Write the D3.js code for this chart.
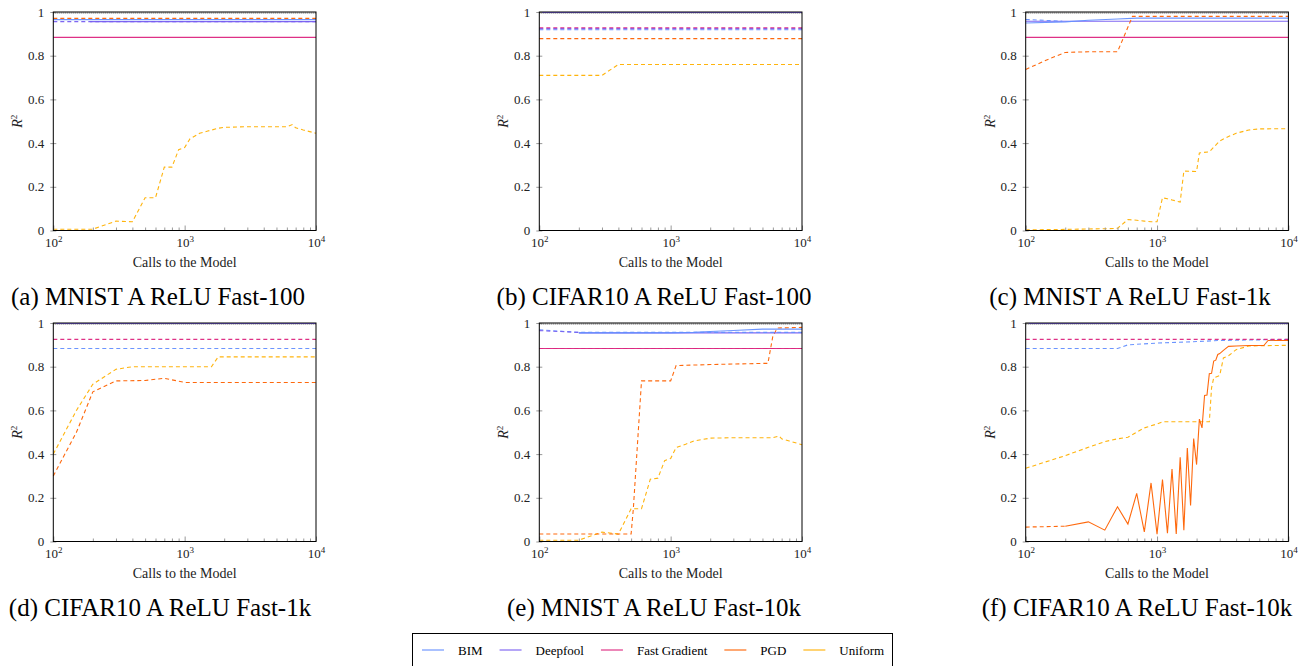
<!DOCTYPE html>
<html><head><meta charset="utf-8">
<script src="https://cdn.jsdelivr.net/npm/d3@7"></script>
<style>body{margin:0;background:#fff}svg{display:block}</style>
</head><body>
<svg id="c" width="1307" height="666"></svg>
<script>
// ---------- data ----------
const methods = ["BIM", "Deepfool", "Fast Gradient", "PGD", "Uniform"];
const methodColors = ["#648FFF", "#785EF0", "#DC267F", "#FE6100", "#FFB000"];
const yTicks = [0, 0.2, 0.4, 0.6, 0.8, 1];
const xMajor = [100, 1000, 10000];
const xMinor = [200,300,400,500,600,700,800,900,2000,3000,4000,5000,6000,7000,8000,9000];
const xSpan = [100, 10000];
const xAxisTitle = "Calls to the Model";
const captions = ["(a) MNIST A ReLU Fast-100", "(b) CIFAR10 A ReLU Fast-100", "(c) MNIST A ReLU Fast-1k",
                  "(d) CIFAR10 A ReLU Fast-1k", "(e) MNIST A ReLU Fast-10k", "(f) CIFAR10 A ReLU Fast-10k"];

// (a) MNIST Fast-100
const aUniformX = [100,200,300,400,500,600,700,800,900,1000,1100,1300,1500,1800,2000,3000,6000,6600,7000,8000,10000];
const aUniformY = [0.006,0.006,0.043,0.04,0.15,0.15,0.29,0.29,0.37,0.38,0.42,0.445,0.455,0.468,0.472,0.475,0.475,0.485,0.47,0.46,0.445];
const aPGDY = [0.971, 0.971];
const aBIMY = [0.965, 0.965];
const aDeepfoolDashY = [0.956, 0.956];
const aDeepfoolX = [190, 10000];
const aDeepfoolY = [0.956, 0.956];
const aFGY = [0.884, 0.884];

// (b) CIFAR10 Fast-100
const bUniformX = [100,200,300,400,1000,10000];
const bUniformY = [0.71,0.71,0.71,0.76,0.76,0.76];
const bFGY = [0.928, 0.928];
const bDeepfoolDashY = [0.924, 0.924];
const bBIMY = [0.919, 0.919];
const bPGDY = [0.878, 0.878];
const bDeepfoolY = [0.998, 0.998];

// (c) MNIST Fast-1k
const cPGDX = [100,150,200,300,500,650,10000];
const cPGDY = [0.737,0.785,0.815,0.818,0.818,0.98,0.98];
const cBIMDashX = [100, 190];
const cBIMDashY = [0.966, 0.958];
const cBIMX = [100,200,300,500,700,10000];
const cBIMY = [0.95,0.955,0.962,0.968,0.972,0.972];
const cDeepfoolY = [0.958, 0.958];
const cFGY = [0.884, 0.884];
const cUniformX = [100,200,300,400,500,600,700,800,900,1000,1100,1200,1300,1400,1500,1600,2000,2100,2500,3000,3500,4000,5000,6000,10000];
const cUniformY = [0.003,0.005,0.007,0.008,0.01,0.05,0.047,0.043,0.04,0.04,0.15,0.145,0.14,0.135,0.13,0.272,0.27,0.355,0.36,0.41,0.43,0.445,0.46,0.465,0.466];

// (d) CIFAR10 Fast-1k
const dUniformX = [100,150,200,300,400,700,1000,1600,1800,10000];
const dUniformY = [0.40,0.60,0.72,0.788,0.80,0.80,0.80,0.80,0.845,0.845];
const dPGDX = [100,150,200,300,500,700,1000,10000];
const dPGDY = [0.30,0.50,0.685,0.735,0.737,0.747,0.728,0.728];
const dFGY = [0.925, 0.925];
const dBIMY = [0.883, 0.883];
const dDeepfoolY = [0.998, 0.998];

// (e) MNIST Fast-10k
const ePGDX = [100,200,300,400,500,520,600,700,800,900,1000,1100,2000,5000,5500,6000,6500,10000];
const ePGDY = [0.034,0.034,0.034,0.034,0.034,0.15,0.735,0.735,0.735,0.735,0.735,0.805,0.81,0.815,0.815,0.94,0.977,0.98];
const eUniformX = [100,200,300,400,500,600,700,800,900,1000,1100,1300,1500,2000,3000,6000,6700,7000,8000,10000];
const eUniformY = [0.006,0.006,0.043,0.034,0.15,0.15,0.285,0.29,0.37,0.38,0.43,0.445,0.46,0.473,0.475,0.475,0.483,0.47,0.46,0.443];
const eBIMDashX = [100, 200, 10000];
const eBIMDashY = [0.969, 0.957, 0.957];
const eBIMX = [200,1000,1500,2000,3000,5000,10000];
const eBIMY = [0.955,0.955,0.957,0.961,0.966,0.972,0.972];
const eDeepfoolX = [200, 10000];
const eDeepfoolY = [0.955, 0.955];
const eDeepfoolDashX = [100, 200];
const eDeepfoolDashY = [0.965, 0.957];
const eFGY = [0.883, 0.883];

// (f) CIFAR10 Fast-10k
const fPGDDashX = [100, 200];
const fPGDDashY = [0.066, 0.070];
const fPGDX = [200,300,400,500,600,700,800,900,1000,1100,1200,1300,1400,1500,1600,1700,1800,1900,2000,2100,2200,2300,2400,2500,2600,2700,2800,2900,3000,3200,3500,4000,5000,6000,6500,7000,10000];
const fPGDY = [0.07,0.09,0.052,0.159,0.08,0.22,0.044,0.268,0.034,0.283,0.038,0.332,0.034,0.385,0.052,0.428,0.165,0.471,0.352,0.56,0.52,0.668,0.67,0.768,0.77,0.826,0.83,0.856,0.86,0.875,0.893,0.895,0.897,0.897,0.897,0.92,0.92];
const fUniformX = [100,200,300,400,500,600,700,800,1000,1100,2000,2500,2600,2700,3000,3200,3500,4000,5000,10000];
const fUniformY = [0.335,0.393,0.431,0.457,0.47,0.477,0.50,0.52,0.538,0.548,0.548,0.548,0.703,0.749,0.76,0.84,0.85,0.878,0.895,0.898];
const fBIMX = [100,500,600,1000,2000,3000,10000];
const fBIMY = [0.883,0.883,0.9,0.908,0.915,0.92,0.925];
const fFGY = [0.925, 0.925];
const fDeepfoolY = [0.998, 0.998];

// ---------- series tables ----------
const S = (m, dash, x, y) => ({ m, dash, x, y });
const panels = [
  [S("Uniform",1,aUniformX,aUniformY), S("Fast Gradient",0,xSpan,aFGY), S("Deepfool",1,xSpan,aDeepfoolDashY),
   S("Deepfool",0,aDeepfoolX,aDeepfoolY), S("BIM",0,xSpan,aBIMY), S("PGD",1,xSpan,aPGDY)],
  [S("Uniform",1,bUniformX,bUniformY), S("PGD",1,xSpan,bPGDY), S("BIM",1,xSpan,bBIMY),
   S("Deepfool",1,xSpan,bDeepfoolDashY), S("Fast Gradient",1,xSpan,bFGY), S("Deepfool",0,xSpan,bDeepfoolY)],
  [S("Uniform",1,cUniformX,cUniformY), S("Fast Gradient",0,xSpan,cFGY), S("Deepfool",0,xSpan,cDeepfoolY),
   S("BIM",0,cBIMX,cBIMY), S("BIM",1,cBIMDashX,cBIMDashY), S("PGD",1,cPGDX,cPGDY)],
  [S("Uniform",1,dUniformX,dUniformY), S("PGD",1,dPGDX,dPGDY), S("BIM",1,xSpan,dBIMY),
   S("Fast Gradient",1,xSpan,dFGY), S("Deepfool",0,xSpan,dDeepfoolY)],
  [S("Uniform",1,eUniformX,eUniformY), S("PGD",1,ePGDX,ePGDY), S("Fast Gradient",0,xSpan,eFGY),
   S("Fast Gradient",1,xSpan,eFGY), S("Deepfool",0,eDeepfoolX,eDeepfoolY), S("BIM",0,eBIMX,eBIMY),
   S("BIM",1,eBIMDashX,eBIMDashY), S("Deepfool",1,eDeepfoolDashX,eDeepfoolDashY)],
  [S("Uniform",1,fUniformX,fUniformY), S("PGD",1,fPGDDashX,fPGDDashY), S("PGD",0,fPGDX,fPGDY),
   S("BIM",1,fBIMX,fBIMY), S("Fast Gradient",1,xSpan,fFGY), S("Deepfool",0,xSpan,fDeepfoolY)]
];

// ---------- layout ----------
const colLeft = [53.3, 539.3, 1025.7];
const rowTop = [12, 323];
const PW = 262.7, PH = 218.5;
const captionX = [158, 654, 1130, 160, 654, 1137];
const FONT = "'Liberation Serif', 'Times New Roman', Times, serif";

const svg = d3.select("#c");
const color = d3.scaleOrdinal().domain(methods).range(methodColors);

panels.forEach((series, i) => {
  const col = i % 3, row = Math.floor(i / 3);
  const L = colLeft[col], T = rowTop[row];
  const g = svg.append("g").attr("transform", `translate(${L},${T})`);
  const x = d3.scaleLog().domain([100, 10000]).range([0, PW]);
  const y = d3.scaleLinear().domain([0, 1]).range([PH, 0]);

  const clipId = "clip" + i;
  g.append("clipPath").attr("id", clipId).append("rect")
    .attr("x", -1).attr("y", -2).attr("width", PW + 2).attr("height", PH + 3);

  const line = d3.line().x(d => x(d[0])).y(d => y(d[1]));
  const plot = g.append("g").attr("clip-path", `url(#${clipId})`);

  // reference line at R^2 = 1
  plot.append("line").attr("x1", 0).attr("x2", PW).attr("y1", y(1) + 1).attr("y2", y(1) + 1)
    .attr("stroke", "#444").attr("stroke-width", 1).attr("stroke-dasharray", "1,1");

  series.forEach(s => {
    plot.append("path").datum(d3.zip(s.x, s.y)).attr("d", line)
      .attr("fill", "none").attr("stroke", color(s.m)).attr("stroke-width", 1.1)
      .attr("stroke-opacity", 0.95)
      .attr("stroke-dasharray", s.dash ? "4,3" : null);
  });

  // y axis
  const ya = d3.axisLeft(y).tickValues(yTicks).tickSize(3).tickPadding(6)
    .tickFormat(d => (d === 0 || d === 1) ? String(d) : d.toFixed(1));
  const yg = g.append("g").call(ya);
  yg.select(".domain").remove();
  yg.selectAll(".tick line").attr("x1", 3).attr("stroke", "#999");
  yg.selectAll("text").attr("font-family", FONT).attr("font-size", 13).attr("fill", "#222");

  // x axis (minor + major ticks inside)
  const xa = d3.axisBottom(x).tickValues(xMajor.concat(xMinor)).tickSize(-3).tickPadding(4).tickFormat("");
  const xg = g.append("g").attr("transform", `translate(0,${PH})`).call(xa);
  xg.select(".domain").remove();
  xg.selectAll(".tick line").attr("stroke", "#999")
    .attr("y2", d => xMajor.includes(d) ? -5 : -3);
  xg.selectAll(".tick").filter(d => xMajor.includes(d)).each(function(d) {
    const t = d3.select(this).select("text").attr("y", 15).attr("dy", 0)
      .attr("font-family", FONT).attr("font-size", 13).attr("fill", "#222")
      .attr("dominant-baseline", "auto").attr("dy", "0.1em");
    t.text(null);
    t.append("tspan").text("10");
    t.append("tspan").attr("dy", -5).attr("font-size", 9).text(String(Math.round(Math.log10(d))));
  });

  // frame
  g.append("rect").attr("x", 0).attr("y", 0).attr("width", PW).attr("height", PH)
    .attr("fill", "none").attr("stroke", "#000").attr("stroke-width", 1);

  // axis titles
  g.append("text").attr("x", PW / 2).attr("y", PH + 36).attr("text-anchor", "middle")
    .attr("font-family", FONT).attr("font-size", 14).attr("fill", "#222").text(xAxisTitle);
  const yl = g.append("text").attr("transform", `translate(-31,${PH / 2}) rotate(-90)`)
    .attr("text-anchor", "middle").attr("font-family", FONT).attr("font-size", 14).attr("fill", "#222");
  yl.append("tspan").attr("font-style", "italic").text("R");
  yl.append("tspan").attr("dy", -5).attr("font-size", 9).text("2");

  // caption
  svg.append("text").attr("x", captionX[i]).attr("y", T + PH + 74).attr("text-anchor", "middle")
    .attr("font-family", FONT).attr("font-size", 25).attr("fill", "#000").text(captions[i]);
});

// ---------- legend ----------
const lg = svg.append("g");
lg.append("rect").attr("x", 412.5).attr("y", 633.5).attr("width", 480).attr("height", 34)
  .attr("fill", "#fff").attr("stroke", "#000").attr("stroke-width", 1);
let cx = 422;
methods.forEach(m => {
  lg.append("line").attr("x1", cx).attr("x2", cx + 22).attr("y1", 650).attr("y2", 650)
    .attr("stroke", color(m)).attr("stroke-width", 1.1);
  const t = lg.append("text").attr("x", cx + 36).attr("y", 654.5)
    .attr("font-family", FONT).attr("font-size", 13).attr("fill", "#000").text(m);
  cx += 36 + t.node().getComputedTextLength() + 17;
});
</script>
</body></html>
